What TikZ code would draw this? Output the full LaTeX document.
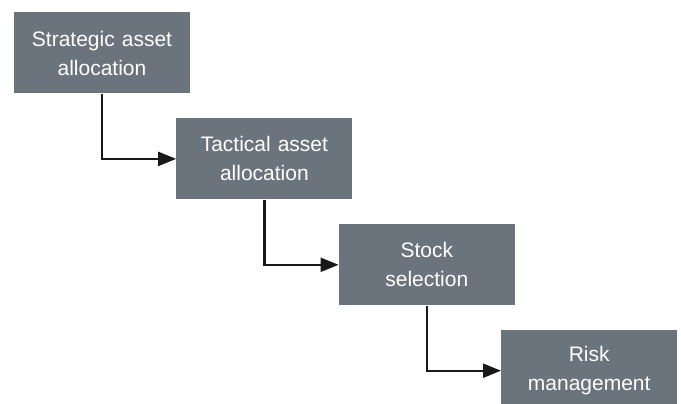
\documentclass[tikz,border=0pt]{standalone}
\usepackage{fontspec}
\setmainfont{Liberation Sans}
\usepackage{tikz}
\usetikzlibrary{positioning, arrows.meta}
\definecolor{boxgray}{HTML}{6B737C}
\tikzstyle{stage} = [rectangle, 
minimum width=176pt, 
minimum height=81pt, 
inner sep=0pt,
text centered, 
text width=170pt, 
fill=boxgray,
text=white,
font=\fontsize{21}{29}\selectfont]
\tikzstyle{arrow} = [line width=2.2pt, -{Triangle[length=18pt, width=14pt]}, black!90]

\begin{document}
\begin{tikzpicture}
			\clip (0,0) rectangle (681pt,-404pt);
			\node (strategic)[stage] at (102pt,-53pt) {Strategic asset\\allocation};
			\node (tactical)[stage, below right=24.5pt and -14pt of strategic] {Tactical asset\\allocation};
			\draw [arrow] (strategic.south) |- (tactical.west);
			
			\node (stock)[stage, below right=24.5pt and -14pt of tactical] {Stock\\selection};
			\draw [arrow] (tactical.south) |- (stock.west);
			
			\node (risk)[stage, below right=24.5pt and -14pt of stock] {Risk\\management};
			\draw [arrow] (stock.south) |- (risk.west);
		\end{tikzpicture}
\end{document}
